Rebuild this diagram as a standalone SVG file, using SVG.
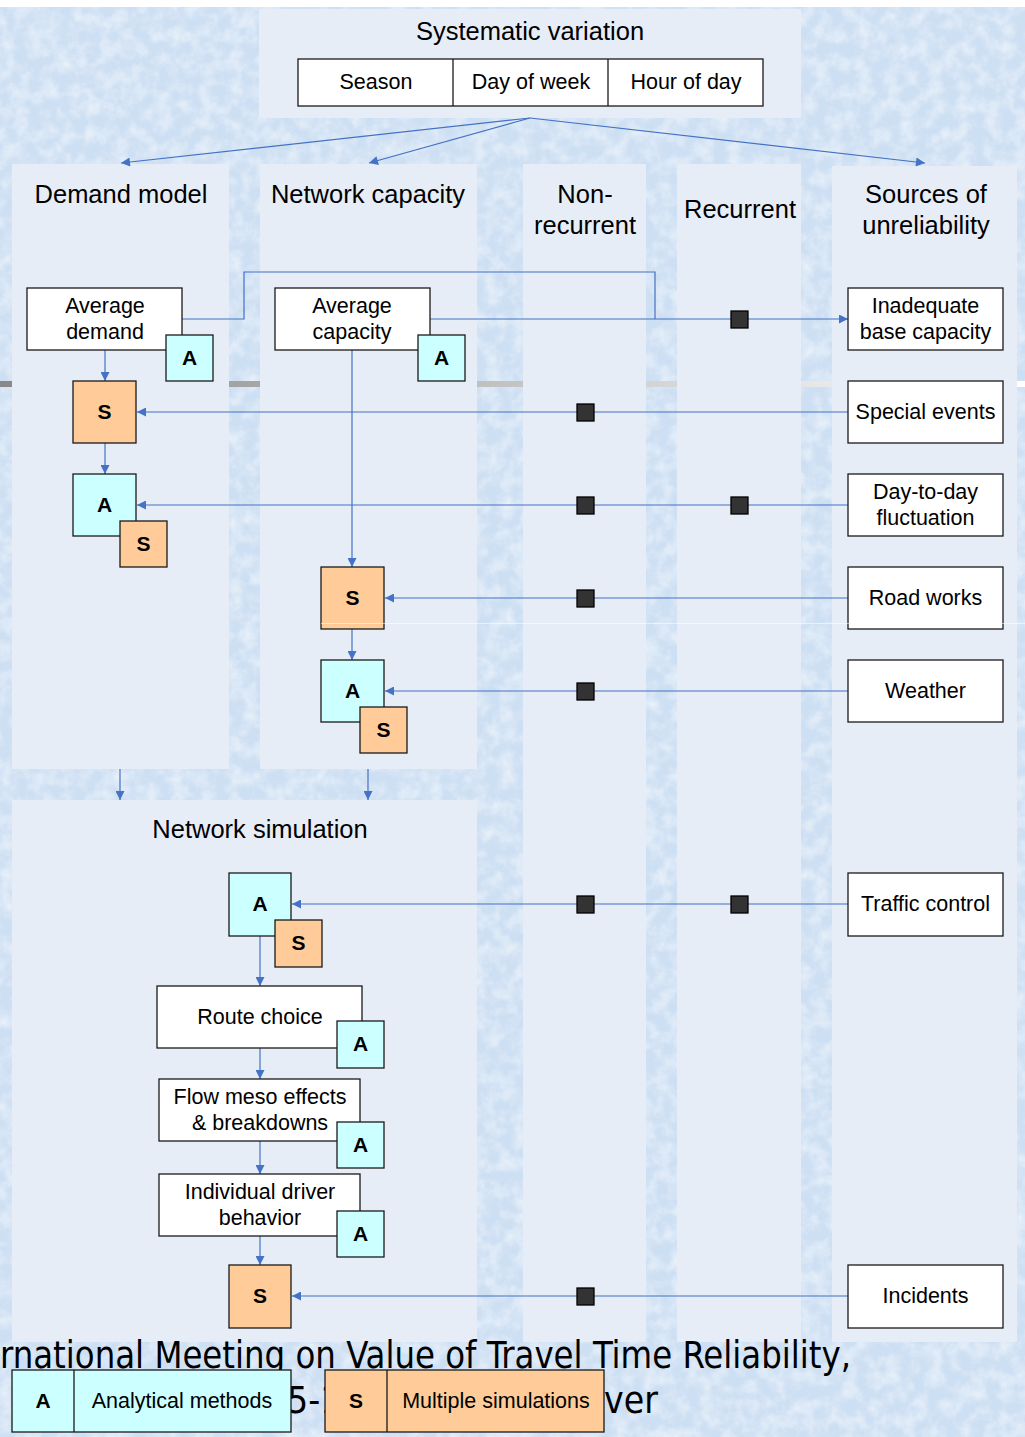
<svg xmlns="http://www.w3.org/2000/svg" width="1025" height="1437" viewBox="0 0 1025 1437">
  <defs>
    <style>
      .panel { fill: #e7edf7; }
      .box { fill: #ffffff; stroke: #1a1a1a; stroke-width: 1.3; }
      .abox { fill: #ccffff; stroke: #1a1a1a; stroke-width: 1.3; }
      .sbox { fill: #ffcc99; stroke: #1a1a1a; stroke-width: 1.3; }
      .mark { fill: #333333; stroke: #000000; stroke-width: 1.3; }
      .t { font-family: "Liberation Sans", Arial, sans-serif; font-size: 21.5px; fill: #000; text-anchor: middle; }
      .h { font-family: "Liberation Sans", Arial, sans-serif; font-size: 25.5px; fill: #000; text-anchor: middle; }
      .b { font-family: "Liberation Sans", Arial, sans-serif; font-size: 21px; font-weight: bold; fill: #000; text-anchor: middle; }
      .bg { font-family: "DejaVu Sans Condensed", "DejaVu Sans", sans-serif; font-size: 37px; fill: #000; }
      .c { fill: none; stroke: #4472c4; stroke-width: 1.2; }
      .ca { fill: none; stroke: #4472c4; stroke-width: 1.2; marker-end: url(#arr); }
    </style>
    <marker id="arr" viewBox="0 0 10 10" refX="10" refY="5" markerUnits="userSpaceOnUse" markerWidth="10" markerHeight="9" orient="auto">
      <path d="M0,0 L10,5 L0,10 z" fill="#4472c4"/>
    </marker>
    <filter id="tex" x="0" y="0" width="100%" height="100%">
      <feTurbulence type="fractalNoise" baseFrequency="0.07" numOctaves="4" seed="7"/>
      <feColorMatrix type="matrix" values="0 0 0 0 1  0 0 0 0 1  0 0 0 0 1  0 0 0 1.6 -0.55"/>
    </filter>
    <linearGradient id="bar" x1="0" y1="0" x2="1" y2="0">
      <stop offset="0" stop-color="#888888"/>
      <stop offset="1" stop-color="#ffffff"/>
    </linearGradient>
  </defs>

  <!-- textured backdrop -->
  <rect x="0" y="0" width="1025" height="1437" fill="#cddff3"/>
  <rect x="0" y="0" width="1025" height="1437" filter="url(#tex)" opacity="0.6"/>
  <rect x="0" y="0" width="1025" height="7" fill="#ffffff"/>
  <rect x="0" y="381" width="1025" height="6" fill="url(#bar)"/>

  <!-- column panels -->
  <g id="panels">
    <rect class="panel" x="259" y="9" width="542" height="109"/>
    <rect class="panel" x="12" y="164" width="217" height="605"/>
    <rect class="panel" x="260" y="164" width="217" height="605"/>
    <rect class="panel" x="523" y="164" width="123" height="1178"/>
    <rect class="panel" x="677" y="164" width="124" height="1178"/>
    <rect class="panel" x="832" y="166" width="185" height="1176"/>
    <rect class="panel" x="12" y="800" width="465" height="542"/>
  </g>

  <!-- footer text behind the legend -->
  <text class="bg" x="0" y="1368" textLength="851" lengthAdjust="spacingAndGlyphs">rnational Meeting on Value of Travel Time Reliability,</text>
  <text class="bg" x="287" y="1413">5-1</text>
  <text class="bg" x="604" y="1413">ver</text>

  <!-- headings -->
  <g id="headings">
    <text class="h" x="530" y="40">Systematic variation</text>
    <text class="h" x="121" y="203">Demand model</text>
    <text class="h" x="368" y="203">Network capacity</text>
    <text class="h" x="585" y="203">Non-</text>
    <text class="h" x="585" y="234">recurrent</text>
    <text class="h" x="740" y="218">Recurrent</text>
    <text class="h" x="926" y="203">Sources of</text>
    <text class="h" x="926" y="234">unreliability</text>
    <text class="h" x="260" y="838">Network simulation</text>
  </g>

  <!-- connectors -->
  <g id="connectors">
    <path class="ca" d="M530,118 L121,163"/>
    <path class="ca" d="M530,118 L369,163"/>
    <path class="ca" d="M530,118 L925,163"/>
    <path class="c" d="M182,319 H244 V272 H655 V319"/>
    <path class="ca" d="M430,319 H848"/>
    <path class="ca" d="M105,350 V381"/>
    <path class="ca" d="M105,443 V474"/>
    <path class="ca" d="M848,412 H137"/>
    <path class="ca" d="M848,505 H137"/>
    <path class="ca" d="M352,350 V567"/>
    <path class="ca" d="M848,598 H385"/>
    <path class="ca" d="M352,629 V660"/>
    <path class="ca" d="M848,691 H385"/>
    <path class="ca" d="M120,769 V800"/>
    <path class="ca" d="M368,769 V800"/>
    <path class="ca" d="M848,904 H292"/>
    <path class="ca" d="M260,936 V986"/>
    <path class="ca" d="M260,1048 V1079"/>
    <path class="ca" d="M260,1141 V1174"/>
    <path class="ca" d="M260,1236 V1265"/>
    <path class="ca" d="M848,1296 H292"/>
  </g>

  <!-- junction markers -->
  <g id="markers">
    <rect class="mark" x="731" y="311" width="17" height="17"/>
    <rect class="mark" x="577" y="404" width="17" height="17"/>
    <rect class="mark" x="577" y="497" width="17" height="17"/>
    <rect class="mark" x="731" y="497" width="17" height="17"/>
    <rect class="mark" x="577" y="590" width="17" height="17"/>
    <rect class="mark" x="577" y="683" width="17" height="17"/>
    <rect class="mark" x="577" y="896" width="17" height="17"/>
    <rect class="mark" x="731" y="896" width="17" height="17"/>
    <rect class="mark" x="577" y="1288" width="17" height="17"/>
  </g>

  <!-- systematic variation table -->
  <g id="systematic">
    <rect class="box" x="298" y="59" width="465" height="47"/>
    <line x1="453" y1="59" x2="453" y2="106" stroke="#1a1a1a" stroke-width="1.3"/>
    <line x1="608" y1="59" x2="608" y2="106" stroke="#1a1a1a" stroke-width="1.3"/>
    <text class="t" x="376" y="89">Season</text>
    <text class="t" x="531" y="89">Day of week</text>
    <text class="t" x="686" y="89">Hour of day</text>
  </g>

  <!-- demand model column -->
  <g id="avg-demand">
    <rect class="box" x="27" y="288" width="155" height="62"/>
    <text class="t" x="105" y="313">Average</text>
    <text class="t" x="105" y="339">demand</text>
    <rect class="abox" x="166" y="335" width="47" height="46"/>
    <text class="b" x="189.5" y="365">A</text>
  </g>
  <g id="demand-s">
    <rect class="sbox" x="73" y="381" width="63" height="62"/>
    <text class="b" x="104.5" y="419">S</text>
  </g>
  <g id="demand-as">
    <rect class="abox" x="73" y="474" width="63" height="62"/>
    <text class="b" x="104.5" y="512">A</text>
    <rect class="sbox" x="120" y="521" width="47" height="46"/>
    <text class="b" x="143.5" y="551">S</text>
  </g>

  <!-- network capacity column -->
  <g id="avg-capacity">
    <rect class="box" x="275" y="288" width="155" height="62"/>
    <text class="t" x="352" y="313">Average</text>
    <text class="t" x="352" y="339">capacity</text>
    <rect class="abox" x="418" y="335" width="47" height="46"/>
    <text class="b" x="441.5" y="365">A</text>
  </g>
  <g id="capacity-s">
    <rect class="sbox" x="321" y="567" width="63" height="62"/>
    <text class="b" x="352.5" y="605">S</text>
  </g>
  <g id="capacity-as">
    <rect class="abox" x="321" y="660" width="63" height="62"/>
    <text class="b" x="352.5" y="698">A</text>
    <rect class="sbox" x="360" y="707" width="47" height="46"/>
    <text class="b" x="383.5" y="737">S</text>
  </g>

  <!-- network simulation -->
  <g id="sim-as">
    <rect class="abox" x="229" y="873" width="62" height="63"/>
    <text class="b" x="260" y="911">A</text>
    <rect class="sbox" x="275" y="920" width="47" height="47"/>
    <text class="b" x="298.5" y="950">S</text>
  </g>
  <g id="route-choice">
    <rect class="box" x="157" y="986" width="205" height="62"/>
    <text class="t" x="260" y="1024">Route choice</text>
    <rect class="abox" x="337" y="1021" width="47" height="47"/>
    <text class="b" x="360.5" y="1051">A</text>
  </g>
  <g id="flow-meso">
    <rect class="box" x="159" y="1079" width="201" height="62"/>
    <text class="t" x="260" y="1104">Flow meso effects</text>
    <text class="t" x="260" y="1130">&amp; breakdowns</text>
    <rect class="abox" x="337" y="1122" width="47" height="46"/>
    <text class="b" x="360.5" y="1152">A</text>
  </g>
  <g id="driver-behavior">
    <rect class="box" x="159" y="1174" width="201" height="62"/>
    <text class="t" x="260" y="1199">Individual driver</text>
    <text class="t" x="260" y="1225">behavior</text>
    <rect class="abox" x="337" y="1211" width="47" height="46"/>
    <text class="b" x="360.5" y="1241">A</text>
  </g>
  <g id="sim-s">
    <rect class="sbox" x="229" y="1265" width="62" height="63"/>
    <text class="b" x="260" y="1303">S</text>
  </g>

  <!-- sources of unreliability -->
  <g id="src-base-capacity">
    <rect class="box" x="848" y="288" width="155" height="62"/>
    <text class="t" x="925.5" y="313">Inadequate</text>
    <text class="t" x="925.5" y="339">base capacity</text>
  </g>
  <g id="src-special-events">
    <rect class="box" x="848" y="381" width="155" height="62"/>
    <text class="t" x="925.5" y="419">Special events</text>
  </g>
  <g id="src-day-to-day">
    <rect class="box" x="848" y="474" width="155" height="62"/>
    <text class="t" x="925.5" y="499">Day-to-day</text>
    <text class="t" x="925.5" y="525">fluctuation</text>
  </g>
  <g id="src-road-works">
    <rect class="box" x="848" y="567" width="155" height="62"/>
    <text class="t" x="925.5" y="605">Road works</text>
  </g>
  <g id="src-weather">
    <rect class="box" x="848" y="660" width="155" height="62"/>
    <text class="t" x="925.5" y="698">Weather</text>
  </g>
  <g id="src-traffic-control">
    <rect class="box" x="848" y="873" width="155" height="63"/>
    <text class="t" x="925.5" y="911">Traffic control</text>
  </g>
  <g id="src-incidents">
    <rect class="box" x="848" y="1265" width="155" height="63"/>
    <text class="t" x="925.5" y="1303">Incidents</text>
  </g>

  <!-- faint rule across the road works row -->
  <line x1="321" y1="623.5" x2="1025" y2="623.5" stroke="#ffffff" stroke-opacity="0.55" stroke-width="1"/>

  <!-- legend -->
  <g id="legend-a">
    <rect class="abox" x="12" y="1370" width="279" height="62"/>
    <line x1="74" y1="1370" x2="74" y2="1432" stroke="#1a1a1a" stroke-width="1.3"/>
    <text class="b" x="43" y="1408">A</text>
    <text class="t" x="182" y="1408">Analytical methods</text>
  </g>
  <g id="legend-s">
    <rect class="sbox" x="325" y="1370" width="279" height="62"/>
    <line x1="387" y1="1370" x2="387" y2="1432" stroke="#1a1a1a" stroke-width="1.3"/>
    <text class="b" x="356" y="1408">S</text>
    <text class="t" x="496" y="1408">Multiple simulations</text>
  </g>
</svg>
